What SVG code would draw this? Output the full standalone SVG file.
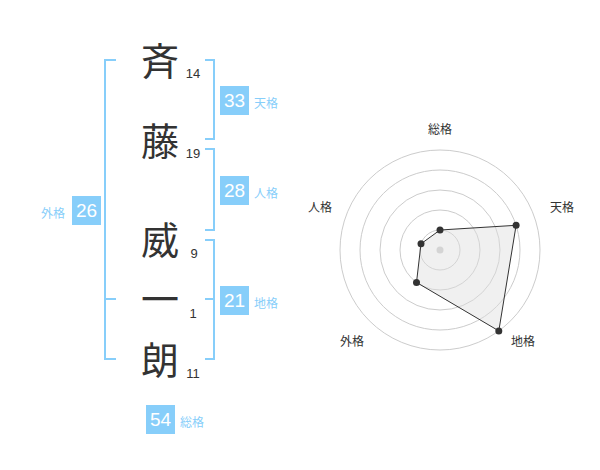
<svg xmlns="http://www.w3.org/2000/svg" width="600" height="470" viewBox="0 0 600 470">
<style>
.ch{font-family:"Noto Sans CJK JP","Noto Sans CJK SC",sans-serif;font-size:38px;fill:#333;text-anchor:middle}
.num{font-family:"Liberation Sans",Arial,sans-serif;font-size:13px;fill:#333;text-anchor:middle}
.box{fill:#87cefa}
.bt{font-family:"Liberation Sans",Arial,sans-serif;font-size:19px;fill:#fff;text-anchor:middle}
.lb{font-family:"Noto Sans CJK JP","Noto Sans CJK SC",sans-serif;font-size:12px;fill:#87cefa}
.br{fill:none;stroke:#87cefa;stroke-width:2}
.ring{fill:none;stroke:#ccc;stroke-width:1}
.rl{font-family:"Noto Sans CJK JP","Noto Sans CJK SC",sans-serif;font-size:12px;fill:#333;text-anchor:middle}
.pt{fill:#333}
</style>
<rect width="600" height="470" fill="#fff"/>
<g id="connectors">
<path class="br" d="M116,60 H105 V359 H116 M105,299 H116"/>
<path class="br" d="M205,60 H214 V139 H205"/>
<path class="br" d="M205,149 H214 V230 H205"/>
<path class="br" d="M205,240 H214 V359 H205 M214,299 H205"/>
</g>
<g id="name">
<g id="c1"><text class="ch" x="160" y="75">斉</text><text class="num" x="193" y="78">14</text></g>
<g id="c2"><text class="ch" x="160" y="155">藤</text><text class="num" x="193" y="158">19</text></g>
<g id="c3"><text class="ch" x="160" y="254">威</text><text class="num" x="194" y="258">9</text></g>
<g id="c4"><text class="ch" x="160" y="313">一</text><text class="num" x="193" y="318">1</text></g>
<g id="c5"><text class="ch" x="160" y="374">朗</text><text class="num" x="193" y="378">11</text></g>
</g>
<g id="tenkaku"><rect class="box" x="220" y="86" width="29" height="29"/><text class="bt" x="234.5" y="107">33</text><text class="lb" x="254" y="108">天格</text></g>
<g id="jinkaku"><rect class="box" x="220" y="176" width="29" height="29"/><text class="bt" x="234.5" y="197">28</text><text class="lb" x="254" y="198">人格</text></g>
<g id="chikaku"><rect class="box" x="220" y="286" width="29" height="29"/><text class="bt" x="234.5" y="307">21</text><text class="lb" x="254" y="308">地格</text></g>
<g id="gaikaku"><rect class="box" x="72" y="196" width="29" height="29"/><text class="bt" x="86.5" y="217">26</text><text class="lb" x="41" y="218">外格</text></g>
<g id="soukaku"><rect class="box" x="146" y="405" width="29" height="29"/><text class="bt" x="160.5" y="426">54</text><text class="lb" x="180" y="427">総格</text></g>
<g id="radar">
<circle class="ring" cx="440" cy="250" r="20"/>
<circle class="ring" cx="440" cy="250" r="40"/>
<circle class="ring" cx="440" cy="250" r="60"/>
<circle class="ring" cx="440" cy="250" r="80"/>
<circle class="ring" cx="440" cy="250" r="100"/>
<circle cx="440" cy="250" r="3.5" fill="#ccc"/>
<polygon points="440,230 516.1,225.3 498.8,330.9 416.5,282.4 421,243.8" fill="#ddd" fill-opacity="0.45" stroke="#333" stroke-width="1"/>
<circle class="pt" cx="440" cy="230" r="3.5"/>
<circle class="pt" cx="516.1" cy="225.3" r="3.5"/>
<circle class="pt" cx="498.8" cy="330.9" r="3.5"/>
<circle class="pt" cx="416.5" cy="282.4" r="3.5"/>
<circle class="pt" cx="421" cy="243.8" r="3.5"/>
<text class="rl" x="440" y="134">総格</text>
<text class="rl" x="562" y="212">天格</text>
<text class="rl" x="320" y="212">人格</text>
<text class="rl" x="352" y="346">外格</text>
<text class="rl" x="523" y="346">地格</text>
</g>
</svg>
